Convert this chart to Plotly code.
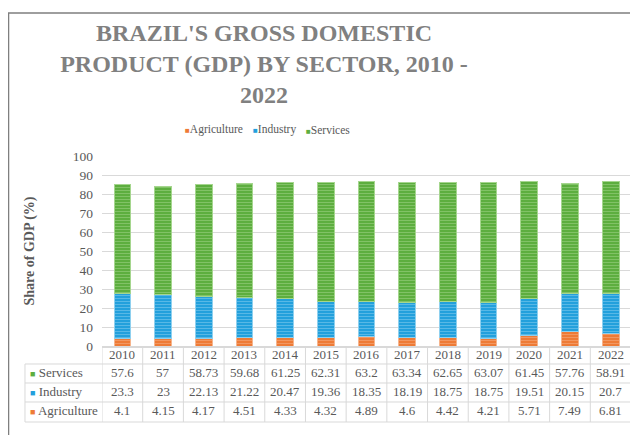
import plotly.graph_objects as go

years = list(range(2010, 2023))
services = [57.6, 57, 58.73, 59.68, 61.25, 62.31, 63.2, 63.34, 62.65, 63.07, 61.45, 57.76, 58.91]
industry = [23.3, 23, 22.13, 21.22, 20.47, 19.36, 18.35, 18.19, 18.75, 18.75, 19.51, 20.15, 20.7]
agriculture = [4.1, 4.15, 4.17, 4.51, 4.33, 4.32, 4.89, 4.6, 4.42, 4.21, 5.71, 7.49, 6.81]

series = [
    ("Agriculture", agriculture, "#EE7B36", "#F6B48C"),
    ("Industry", industry, "#23A0DC", "#8ED0EF"),
    ("Services", services, "#5DAE3F", "#A5D68E"),
]

SERIF = "Liberation Serif, Times New Roman, serif"
GREY = "#595959"
GRID = "#D9D9D9"

fig = go.Figure()
for name, vals, col, light in series:
    fig.add_trace(go.Bar(
        x=years, y=vals, name=name, width=0.41,
        marker=dict(color=col, line=dict(color=light, width=1),
                    pattern=dict(shape="-", fgcolor=light, bgcolor=col,
                                 size=3, solidity=0.35)),
    ))


def note(text, x, y, xref="paper", xanchor="center", size=13):
    fig.add_annotation(x=x, y=y, xref=xref, yref="paper", xanchor=xanchor,
                       yanchor="middle", showarrow=False, text=text,
                       font=dict(family=SERIF, size=size, color=GREY))


# legend drawn as text, Excel style small squares
for lx, (name, _, col, _) in zip([0.2117, 0.327, 0.4263], series):
    note(f"<span style='color:{col};font-size:8px'>■</span>{name}", lx, 1.137, size=11.5)

# data table below the plot (year row + one row per sector)
for yr in years:
    note(str(yr), yr, -0.047, xref="x")
row_y = [-0.142, -0.242, -0.342]
rows = [("Services", services, "#5DAE3F"),
        ("Industry", industry, "#23A0DC"),
        ("Agriculture", agriculture, "#EE7B36")]
for ry, (name, vals, col) in zip(row_y, rows):
    note(f"<span style='color:{col};font-size:9px'>■</span> {name}", -0.14, ry,
         xanchor="left")
    for yr, v in zip(years, vals):
        note(f"{v:g}", yr, ry, xref="x")

line = dict(color=GRID, width=1)
for k in range(len(years) + 1):
    xb = years[0] - 0.5 + k
    fig.add_shape(type="line", xref="x", yref="paper", x0=xb, x1=xb,
                  y0=0, y1=-0.4, line=line)
for hy in [-0.0947, -0.1947, -0.2947, -0.4]:
    fig.add_shape(type="line", xref="paper", yref="paper", x0=-0.1456, x1=1.0,
                  y0=hy, y1=hy, line=line)
fig.add_shape(type="line", xref="paper", yref="paper", x0=-0.1456, x1=-0.1456,
              y0=-0.0947, y1=-0.4, line=line)

# chart frame
fig.add_shape(type="rect", xref="paper", yref="paper", x0=-0.1767, x1=1.2,
              y0=-0.6, y1=1.7526, line=dict(color="#7F7F7F", width=1.5))

fig.update_layout(
    width=630, height=427,
    margin=dict(l=94, r=7, t=148, b=89),
    paper_bgcolor="white", plot_bgcolor="white",
    barmode="stack", showlegend=False,
    title=dict(
        text="<b>BRAZIL'S GROSS DOMESTIC<br>PRODUCT (GDP) BY SECTOR, 2010 -<br>2022</b>",
        x=256 / 630, xref="container", xanchor="center",
        y=1 - 33 / 427, yref="container", yanchor="top",
        font=dict(family=SERIF, size=24, color="#808080"),
    ),
    yaxis=dict(range=[0, 100], dtick=10, gridcolor=GRID, zeroline=False,
               ticklabelstandoff=8,
               tickfont=dict(family=SERIF, size=13.5, color=GREY),
               title=dict(text="<b>Share of GDP (%)</b>", standoff=34,
                          font=dict(family=SERIF, size=14, color=GREY))),
    xaxis=dict(range=[years[0] - 0.5, years[-1] + 0.5], showticklabels=False,
               showline=True, linecolor=GRID, linewidth=1.5, showgrid=False,
               zeroline=False, ticks=""),
)

fig.write_html("out.html")
